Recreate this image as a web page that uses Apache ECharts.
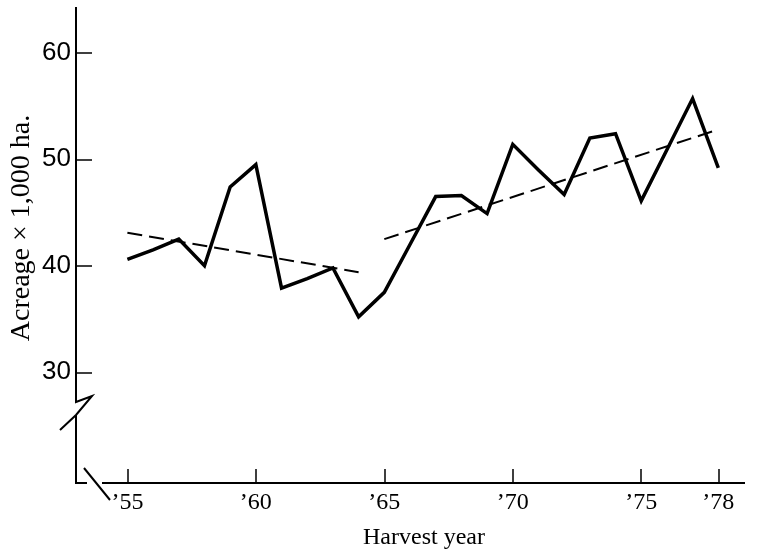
<!DOCTYPE html>
<html>
<head>
<meta charset="utf-8">
<script src="https://cdn.jsdelivr.net/npm/echarts@6/dist/echarts.min.js"></script>
<style>
  html, body { margin: 0; padding: 0; background: #fff; }
  #chart { width: 765px; height: 553px; }
</style>
</head>
<body>
<div id="chart"></div>
<script>
// harvest years and acreage (x 1,000 ha)
var years = [1955, 1956, 1957, 1958, 1959, 1960, 1961, 1962, 1963, 1964, 1965, 1966,
             1967, 1968, 1969, 1970, 1971, 1972, 1973, 1974, 1975, 1976, 1977, 1978];
var acreage = [40.6, 41.5, 42.5, 40.0, 47.4, 49.5, 37.9, 38.8, 39.8, 35.2, 37.5, 42.0,
               46.5, 46.6, 44.9, 51.4, 49.0, 46.7, 52.0, 52.4, 46.1, 50.9, 55.7, 49.2];

// dashed trend lines: [start year, end year] and [start value, end value]
var trend1Years = [1955, 1964];
var trend1Values = [43.1, 39.4];
var trend2Years = [1965, 1978];
var trend2Values = [42.5, 52.8];

var xTicks = [1955, 1960, 1965, 1970, 1975, 1978];
var yTicks = [30, 40, 50, 60];

function pairs(xs, ys) {
	var out = [];
	for (var i = 0; i < xs.length; i++) out.push([xs[i], ys[i]]);
	return out;
}

var serif = '"Liberation Serif", "DejaVu Serif", serif';
var sans = '"Liberation Sans", Arial, sans-serif';

var option = {
	backgroundColor: '#fff',
	animation: false,
	grid: { left: 76, right: 21, top: 7, bottom: 70 },
	xAxis: {
		type: 'value',
		min: 1953,
		max: 1979,
		axisLine: { show: false },
		splitLine: { show: false },
		axisTick: {
			inside: true,
			length: 14,
			customValues: xTicks,
			lineStyle: { color: '#000', width: 1.5 }
		},
		axisLabel: {
			customValues: xTicks,
			margin: 8,
			color: '#000',
			fontFamily: serif,
			fontSize: 24,
			formatter: function(v) { return '\u2019' + String(v).slice(2); }
		}
	},
	yAxis: {
		type: 'value',
		min: 19.6,
		max: 64.3,
		axisLine: { show: false },
		splitLine: { show: false },
		axisTick: {
			inside: true,
			length: 16,
			customValues: yTicks,
			lineStyle: { color: '#000', width: 1.5 }
		},
		axisLabel: {
			customValues: yTicks,
			margin: 5,
			color: '#000',
			fontFamily: sans,
			fontSize: 26
		}
	},
	series: [{
		name: 'Acreage',
		type: 'line',
		data: pairs(years, acreage),
		showSymbol: false,
		lineStyle: { color: '#000', width: 3.5, join: 'miter' }
	}, {
		name: 'Trend 1955-64',
		type: 'line',
		data: pairs(trend1Years, trend1Values),
		showSymbol: false,
		lineStyle: { color: '#000', width: 2, type: [15, 7] }
	}, {
		name: 'Trend 1965-78',
		type: 'line',
		data: pairs(trend2Years, trend2Values),
		showSymbol: false,
		lineStyle: { color: '#000', width: 2, type: [15, 7] }
	}],
	graphic: [
		// y axis with break
		{ type: 'polyline', shape: { points: [[76, 7], [76, 402], [92, 396], [76, 415], [60, 430]] },
		  style: { stroke: '#000', lineWidth: 2, fill: null } },
		{ type: 'polyline', shape: { points: [[76, 415], [76, 483], [87, 483]] },
		  style: { stroke: '#000', lineWidth: 2, fill: null } },
		// x axis with break
		{ type: 'polyline', shape: { points: [[84, 468], [110, 500]] },
		  style: { stroke: '#000', lineWidth: 2, fill: null } },
		{ type: 'polyline', shape: { points: [[102, 483], [745, 483]] },
		  style: { stroke: '#000', lineWidth: 2, fill: null } },
		// axis titles
		{ type: 'text', x: 424, y: 538,
		  style: { text: 'Harvest year', fill: '#000', font: '24px ' + serif,
		           textAlign: 'center', textVerticalAlign: 'middle' } },
		{ type: 'text', x: 22, y: 228, rotation: Math.PI / 2,
		  style: { text: 'Acreage \u00d7 1,000 ha.', fill: '#000', font: '28px ' + serif,
		           textAlign: 'center', textVerticalAlign: 'middle' } }
	]
};

var chart = echarts.init(document.getElementById('chart'));
chart.setOption(option);
</script>
</body>
</html>
